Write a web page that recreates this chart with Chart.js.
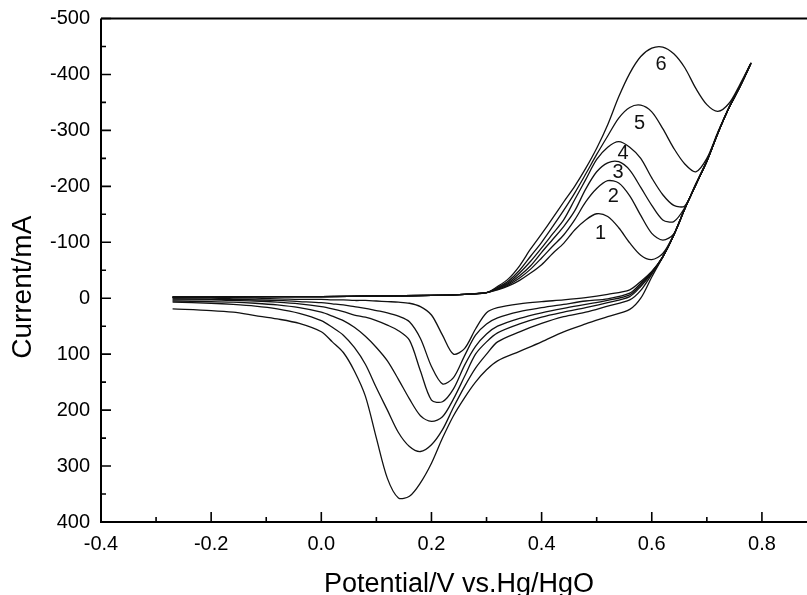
<!DOCTYPE html>
<html>
<head>
<meta charset="utf-8">
<script src="https://cdn.jsdelivr.net/npm/chart.js@4"></script>
<style>
  html, body { margin: 0; padding: 0; background: #fff; }
  #wrap { width: 807px; height: 595px; overflow: hidden; }
  canvas { display: block; }
</style>
</head>
<body>
<div id="wrap"><canvas id="cvChart" width="840" height="605"></canvas></div>
<script>
// potential grid (V vs Hg/HgO) for the anodic sweep and the return sweep
const potentialFwd = [-0.27, -0.2, -0.1, 0.0, 0.1, 0.2, 0.26,
    0.30, 0.32, 0.34, 0.36, 0.38, 0.40, 0.42, 0.44, 0.46, 0.48, 0.50, 0.52, 0.54,
    0.56, 0.58, 0.60, 0.62, 0.64, 0.66, 0.68, 0.70, 0.72, 0.74, 0.76, 0.78];
const potentialRev = [0.76, 0.74, 0.72, 0.70, 0.68, 0.66, 0.64, 0.62, 0.60, 0.58, 0.56,
    0.52, 0.48, 0.44, 0.40, 0.36, 0.32, 0.30, 0.28, 0.26, 0.24, 0.22, 0.20, 0.18,
    0.16, 0.14, 0.12, 0.10, 0.08, 0.06, 0.04, 0.02, 0.00, -0.04, -0.08, -0.12, -0.16, -0.20, -0.27];

// current (mA) on the anodic sweep, curves 1..6
const fwd1 = [-2, -2, -3, -3, -4, -5, -7, -10, -15, -22, -32, -45, -60, -80, -98, -122, -140, -151, -146, -126, -99, -77, -69, -80, -114, -160, -203, -245, -295, -340, -378, -420];
const fwd2 = [-2, -2, -3, -3, -4, -5, -7, -10, -16, -24, -36, -52, -72, -93, -113, -140, -172, -196, -210, -206, -183, -148, -116, -104, -115, -160, -203, -245, -295, -340, -378, -420];
const fwd3 = [-2, -2, -3, -3, -4, -5, -7, -10, -17, -26, -40, -58, -82, -105, -128, -156, -195, -226, -242, -244, -229, -198, -166, -140, -137, -162, -203, -245, -295, -340, -378, -420];
const fwd4 = [-2, -2, -3, -3, -4, -5, -7, -10, -18, -28, -45, -66, -90, -115, -140, -176, -212, -248, -270, -280, -270, -250, -215, -185, -166, -165, -205, -246, -295, -340, -378, -420];
const fwd5 = [-2, -2, -3, -3, -4, -5, -7, -10, -19, -31, -50, -75, -100, -128, -157, -188, -222, -257, -290, -322, -341, -345, -333, -303, -268, -240, -226, -250, -297, -341, -379, -420];
const fwd6 = [-2, -2, -3, -3, -4, -5, -7, -10, -21, -35, -58, -88, -115, -143, -172, -200, -232, -268, -310, -360, -402, -432, -447, -449, -437, -412, -375, -346, -334, -348, -382, -420];

// current (mA) on the return sweep, curves 1..6
const rev1 = [-378, -340, -295, -245, -203, -160, -113, -74, -48, -30, -15, -7, -1, 3, 6, 10, 17, 26, 55, 90, 100, 66, 30, 15, 9, 7, 6, 5, 4, 4, 3, 3, 2, 2, 1, 1, 1, 0, 0];
const rev2 = [-378, -340, -295, -245, -203, -160, -113, -74, -47, -27, -9, 1, 5, 11, 17, 24, 35, 46, 66, 103, 142, 153, 122, 72, 42, 32, 26, 22, 18, 15, 12, 10, 8, 6, 4, 3, 2, 2, 1];
const rev3 = [-378, -340, -295, -245, -203, -160, -113, -74, -46, -24, -6, 4, 11, 18, 26, 36, 50, 64, 86, 120, 162, 185, 182, 130, 75, 58, 48, 40, 34, 30, 24, 19, 15, 10, 7, 5, 4, 3, 3];
const rev4 = [-378, -340, -295, -245, -203, -160, -113, -74, -45, -21, -3, 8, 17, 25, 34, 46, 62, 78, 100, 140, 180, 212, 220, 210, 180, 145, 112, 88, 68, 52, 40, 32, 25, 17, 12, 9, 7, 6, 5];
const rev5 = [-378, -340, -295, -245, -203, -160, -113, -74, -43, -14, 3, 14, 25, 33, 45, 60, 78, 100, 125, 158, 195, 235, 262, 274, 265, 240, 200, 160, 118, 88, 66, 52, 40, 27, 19, 14, 11, 9, 7];
const rev6 = [-378, -340, -295, -245, -203, -160, -113, -74, -38, 0, 20, 33, 46, 60, 78, 95, 112, 128, 150, 178, 210, 250, 295, 330, 354, 357, 322, 250, 175, 130, 97, 78, 60, 45, 37, 31, 25, 22, 19];

// curve numbers written next to the anodic peaks
const curveNames = ['1', '2', '3', '4', '5', '6'];
const nameE = [0.507, 0.530, 0.539, 0.548, 0.578, 0.617];
const nameI = [-115, -182, -224, -258, -313, -417];

// axis ticks
const xTicks = [-0.4, -0.2, 0.0, 0.2, 0.4, 0.6, 0.8];
const xMinor = [-0.3, -0.1, 0.1, 0.3, 0.5, 0.7, 0.9];
const yTicks = [-500, -400, -300, -200, -100, 0, 100, 200, 300, 400];
const yMinor = [-450, -350, -250, -150, -50, 50, 150, 250, 350];

const FONT = "'Liberation Sans', Arial, sans-serif";
const Y_TITLE = 'Current/mA';

const forward = [fwd1, fwd2, fwd3, fwd4, fwd5, fwd6];
const backward = [rev1, rev2, rev3, rev4, rev5, rev6];

const loopPoints = (fwd, rev) =>
    potentialFwd.map((e, i) => ({ x: e, y: fwd[i] }))
        .concat(potentialRev.map((e, i) => ({ x: e, y: rev[i] })));

// inward tick marks, frame lines, y title and curve numbers
const frameAndTicks = {
    id: 'frameAndTicks',
    afterDatasetsDraw(chart) {
        const { ctx, chartArea: a, scales: { x, y } } = chart;
        ctx.save();
        ctx.strokeStyle = '#000';
        ctx.lineWidth = 2;
        ctx.beginPath();
        ctx.moveTo(a.left, a.top);
        ctx.lineTo(a.right, a.top);
        ctx.moveTo(a.left, a.top);
        ctx.lineTo(a.left, a.bottom);
        ctx.lineTo(a.right, a.bottom);
        ctx.stroke();

        ctx.lineWidth = 1.6;
        ctx.beginPath();
        xTicks.forEach(v => {
            const px = x.getPixelForValue(v);
            ctx.moveTo(px, a.bottom);
            ctx.lineTo(px, a.bottom - 10);
        });
        xMinor.forEach(v => {
            const px = x.getPixelForValue(v);
            ctx.moveTo(px, a.bottom);
            ctx.lineTo(px, a.bottom - 5);
        });
        yTicks.forEach(v => {
            const py = y.getPixelForValue(v);
            ctx.moveTo(a.left, py);
            ctx.lineTo(a.left + 10, py);
        });
        yMinor.forEach(v => {
            const py = y.getPixelForValue(v);
            ctx.moveTo(a.left, py);
            ctx.lineTo(a.left + 5, py);
        });
        ctx.stroke();

        // y title sits a little below the middle of the axis
        ctx.fillStyle = '#000';
        ctx.font = `28px ${FONT}`;
        ctx.textAlign = 'center';
        ctx.textBaseline = 'middle';
        ctx.translate(23, (a.top + a.bottom) / 2 + 17);
        ctx.rotate(-Math.PI / 2);
        ctx.fillText(Y_TITLE, 0, 0);
        ctx.setTransform(1, 0, 0, 1, 0, 0);

        ctx.fillStyle = '#111';
        ctx.font = `20px ${FONT}`;
        curveNames.forEach((n, i) => {
            ctx.fillText(n, x.getPixelForValue(nameE[i]), y.getPixelForValue(nameI[i]));
        });
        ctx.restore();
    }
};

new Chart(document.getElementById('cvChart').getContext('2d'), {
    type: 'scatter',
    data: {
        datasets: forward.map((fwd, k) => ({
            data: loopPoints(fwd, backward[k]),
            showLine: true,
            borderColor: '#111',
            borderWidth: 1.3,
            pointRadius: 0,
            tension: 0.3,
            fill: false
        }))
    },
    options: {
        responsive: false,
        animation: false,
        layout: { padding: { top: 18.5, right: 23, left: 0, bottom: 0 } },
        plugins: { legend: { display: false }, tooltip: { enabled: false } },
        scales: {
            x: {
                type: 'linear',
                min: -0.4,
                max: 0.9,
                afterBuildTicks: s => { s.ticks = xTicks.map(v => ({ value: v })); },
                afterFit: s => { s.height = 83; s.paddingLeft = 0; s.paddingRight = 0; },
                grid: { display: false, drawTicks: false },
                border: { display: false },
                ticks: {
                    padding: 10,
                    color: '#000',
                    autoSkip: false,
                    maxRotation: 0,
                    font: { family: FONT, size: 20 },
                    callback: v => v.toFixed(1)
                },
                title: {
                    display: true,
                    text: 'Potential/V vs.Hg/HgO',
                    color: '#000',
                    font: { family: FONT, size: 27 },
                    padding: { top: 0, bottom: 4 }
                }
            },
            y: {
                type: 'linear',
                min: -500,
                max: 400,
                reverse: true,
                afterBuildTicks: s => { s.ticks = yTicks.map(v => ({ value: v })); },
                afterFit: s => { s.width = 101; s.paddingTop = 0; s.paddingBottom = 0; },
                grid: { display: false, drawTicks: false },
                border: { display: false },
                ticks: {
                    padding: 11,
                    color: '#000',
                    font: { family: FONT, size: 20 },
                    callback: v => String(v)
                }
            }
        }
    },
    plugins: [frameAndTicks]
});
</script>
</body>
</html>
